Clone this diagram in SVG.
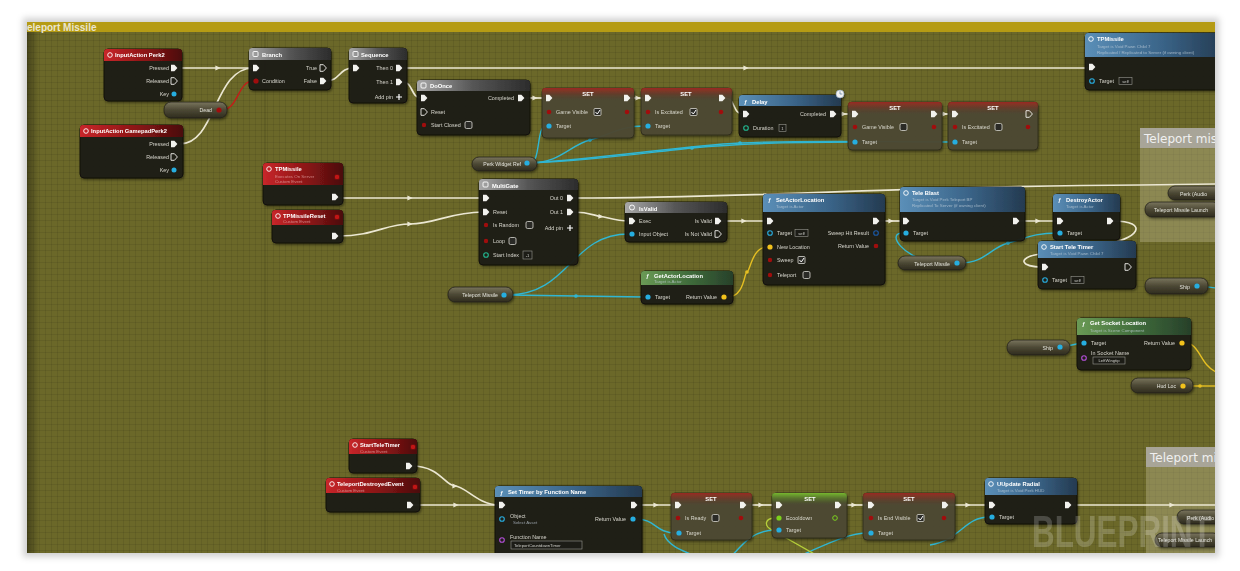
<svg xmlns="http://www.w3.org/2000/svg" width="1240" height="571" viewBox="0 0 1240 571">
<defs>
<style>
.t{font-family:"Liberation Sans",Arial,sans-serif;font-size:5.4px;fill:#d6d6cc}
.e{text-anchor:end}
.m{text-anchor:middle}
.tt{font-family:"Liberation Sans",Arial,sans-serif;font-size:5.8px;font-weight:bold;fill:#fff}
.ts{font-family:"Liberation Sans",Arial,sans-serif;font-size:4.4px;fill:#c8d4de;fill-opacity:.7}
.tsr{font-family:"Liberation Sans",Arial,sans-serif;font-size:4.4px;fill:#e8b0b0;fill-opacity:.7}
.nb{fill:#1c1b16;fill-opacity:.95;stroke:#0c0c09;stroke-width:.8}
.sb{fill:#4e4933;fill-opacity:.95;stroke:#2b2818;stroke-width:.8}
.gv{fill:url(#gGet);stroke:#23211a;stroke-width:.8}
.ef{fill:#f2f2ee}
.eh{fill:none;stroke:#f2f2ee;stroke-width:.9}
.pb{fill:#27aee0}
.pbh{fill:none;stroke:#27aee0;stroke-width:1.1}
.pr{fill:#a01010}
.py{fill:#f2c21c}
.pgr{fill:#7cd11e}
.pgh{fill:none;stroke:#7cd11e;stroke-width:1}
.pth{fill:none;stroke:#22b890;stroke-width:1.1}
.ppu{fill:none;stroke:#b450d8;stroke-width:1.1}
.dl{fill:#c01414;stroke:#5a0808;stroke-width:.6}
.cb{fill:#2a2a26;stroke:#d8d8d0;stroke-width:.8}
.ck{fill:none;stroke:#fff;stroke-width:1}
.db{fill:#1a1a16;stroke:#9a9a92;stroke-width:.6}
.dt{font-family:"Liberation Sans",Arial,sans-serif;font-size:4.2px;fill:#d0d0c8}
.ic{fill:none;stroke:#fff;stroke-width:.9}
.pl{fill:none;stroke:#fff;stroke-width:1.2}
.w{fill:none;stroke:#ebe7d2;stroke-width:1.7}
.wb{fill:none;stroke:#30b6d2;stroke-width:1.4}
.wy{fill:none;stroke:#e6bf22;stroke-width:1.4}
.wr{fill:none;stroke:#c41c18;stroke-width:1.4}
.wg{fill:none;stroke:#b6cf3a;stroke-width:1.3}
.arw{marker-mid:url(#mW)}
.arb{marker-mid:url(#mB)}
.ary{marker-mid:url(#mY)}
.cm{fill:#d2cca6;fill-opacity:.33}
.ch{fill:#aaa79e;fill-opacity:.92}
.ct{font-family:"DejaVu Sans",sans-serif;font-size:12px;fill:#f0f0f0}
.gt{font-family:"Liberation Sans",Arial,sans-serif;font-size:5.2px;fill:#e4e4dc;text-anchor:end}
.gs{font-family:"Liberation Sans",Arial,sans-serif;font-size:5.2px;fill:#e4e4dc}
</style>
<path id="ex" d="M-3,-3.3H0.4L3.4,0L0.4,3.3H-3Z"/>
<marker id="mW" viewBox="-3 -3 6 6" markerWidth="6" markerHeight="6" orient="auto" markerUnits="userSpaceOnUse"><path d="M-2.6,-2.4L2.6,0L-2.6,2.4Z" fill="#ebe7d2"/></marker>
<marker id="mB" viewBox="-3 -3 6 6" markerWidth="5" markerHeight="5" orient="auto" markerUnits="userSpaceOnUse"><circle r="2.2" fill="#30b6d2"/></marker>
<marker id="mY" viewBox="-3 -3 6 6" markerWidth="5" markerHeight="5" orient="auto" markerUnits="userSpaceOnUse"><circle r="2.2" fill="#e6bf22"/></marker>
<linearGradient id="gRed" x1="0" y1="0" x2="1" y2="0"><stop offset="0" stop-color="#c8262a"/><stop offset=".55" stop-color="#8a1414"/><stop offset="1" stop-color="#4a0e0e"/></linearGradient>
<linearGradient id="gGray" x1="0" y1="0" x2="1" y2="0"><stop offset="0" stop-color="#a8a8a8"/><stop offset=".5" stop-color="#555"/><stop offset="1" stop-color="#2c2c2c"/></linearGradient>
<linearGradient id="gBlue" x1="0" y1="0" x2="1" y2="0"><stop offset="0" stop-color="#5b8fb8"/><stop offset=".55" stop-color="#3a6488"/><stop offset="1" stop-color="#243a50"/></linearGradient>
<linearGradient id="gGreen" x1="0" y1="0" x2="1" y2="0"><stop offset="0" stop-color="#6a9a55"/><stop offset=".55" stop-color="#3e6a3a"/><stop offset="1" stop-color="#27402a"/></linearGradient>
<linearGradient id="gSet" x1="0" y1="0" x2="0" y2="1"><stop offset="0" stop-color="#a02a22" stop-opacity=".95"/><stop offset="1" stop-color="#5a3a28" stop-opacity="0"/></linearGradient>
<linearGradient id="gSetG" x1="0" y1="0" x2="0" y2="1"><stop offset="0" stop-color="#7ac030" stop-opacity=".95"/><stop offset="1" stop-color="#4a6a28" stop-opacity="0"/></linearGradient>
<linearGradient id="gGet" x1="0" y1="0" x2="0" y2="1"><stop offset="0" stop-color="#7a755e"/><stop offset=".5" stop-color="#4c4834"/><stop offset="1" stop-color="#2e2b1e"/></linearGradient>
<linearGradient id="gLeft" x1="0" y1="0" x2="1" y2="0"><stop offset="0" stop-color="#000" stop-opacity=".35"/><stop offset="1" stop-color="#000" stop-opacity="0"/></linearGradient>
<pattern id="gm" x="9" y="22" width="6" height="6" patternUnits="userSpaceOnUse"><path d="M0,0.5H6M0.5,0V6" stroke="#000" stroke-opacity=".08" stroke-width="1"/></pattern>
<clipPath id="cv"><rect x="27" y="22" width="1188" height="531"/></clipPath>
<filter id="sh" x="-5%" y="-5%" width="110%" height="115%"><feDropShadow dx="1" dy="1.5" stdDeviation="1.2" flood-color="#000" flood-opacity=".45"/></filter>
<filter id="fb" x="-5%" y="-5%" width="110%" height="110%"><feGaussianBlur stdDeviation="3"/></filter>
</defs>
<rect width="1240" height="571" fill="#fff"/>
<rect x="23" y="18" width="1196" height="539" fill="#000" fill-opacity=".18" filter="url(#fb)"/>
<g clip-path="url(#cv)">
<rect x="27" y="22" width="1188" height="531" fill="#6b6829"/>
<rect x="27" y="22" width="1188" height="531" fill="url(#gm)"/>
<path d="M265,32V553" stroke="#000" stroke-opacity=".15" stroke-width="1.2"/>
<rect x="27" y="22" width="12" height="531" fill="url(#gLeft)"/>
<rect x="27" y="22" width="1188" height="10" fill="#b59b14"/>
<text x="27" y="31" font-family="Liberation Sans, Arial, sans-serif" font-size="10" font-weight="bold" fill="#ebe6cf">eleport Missile</text>

<g id="comment-1">
<rect class="cm" x="1140" y="128" width="80" height="114"/>
<rect class="ch" x="1140" y="128" width="80" height="20"/>
<text class="ct" x="1144" y="143">Teleport mis</text>
</g>
<g id="comment-2">
<rect class="cm" x="1146" y="447" width="74" height="106"/>
<rect class="ch" x="1146" y="447" width="74" height="20"/>
<text class="ct" x="1150" y="462">Teleport mis</text>
</g>

<g id="connectors">
<path class="w arw" d="M180,68L218,68L253,68"/>
<path class="w" d="M180,144C216,144 214,68 253,68"/>
<path class="wr" d="M222,110C238,110 238,81 253,81"/>
<path class="w" d="M326,81C340,81 339,68 353,68"/>
<path class="w arw" d="M403,68L746,68L1089,68"/>
<path class="w" d="M403,82C413,82 411,98 421,98"/>
<path class="w arw" d="M524,98L535,98L545,98"/>
<path class="w arw" d="M630,98L638,98L645,98"/>
<path class="w" d="M725,98C736,98 732,114 743,114"/>
<path class="w arw" d="M836,114L844,114L852,114"/>
<path class="w arw" d="M937,114L945,114L952,114"/>
<path class="w arw" d="M338,198L410,198L483,198"/>
<path class="w" d="M573,198C760,198 900,186 1140,185L1216,184"/>
<path class="w arw" d="M338,236C375,236 385,224 410,224S450,212 483,212"/>
<path class="w arw" d="M573,212C590,212 595,216 601,216.5S615,221 629,221"/>
<path class="w arw" d="M721,221L744,221L767,221"/>
<path class="w arw" d="M879,221L891,221L903,221"/>
<path class="w arw" d="M1019,221L1038,221L1057,221"/>
<path class="w" d="M1113,221C1150,221 1140,240 1100,245L1040,254C1015,258 1022,267 1042,267"/>
<path class="w arw" d="M412,466C440,466 445,486 455,486S478,505 499,505"/>
<path class="w arw" d="M413,505L456,505L499,505"/>
<path class="w arw" d="M637,505L656,505L675,505"/>
<path class="w arw" d="M746,505L761,505L776,505"/>
<path class="w arw" d="M841,505L854,505L868,505"/>
<path class="w arw" d="M948,505L968,505L989,505"/>
<path class="w arw" d="M1071,505L1172,505L1216,505"/>
<path class="wb" d="M530,163C541,163 536,126 546,126"/>
<path class="wb arb" d="M530,163C560,163 570,145 590,140S620,126 645,126"/>
<path class="wb arb" d="M530,163C600,160 650,152 692,148S800,142 852,142"/>
<path class="wb arb" d="M530,163C610,158 680,146 740,143S880,142 952,142"/>
<path class="wb" d="M507,295C570,295 570,234 629,234"/>
<path class="wb arb" d="M507,295L576,296L645,297"/>
<path class="wb arb" d="M903,233C885,233 905,258 930,261S950,263 960,263"/>
<path class="wb arb" d="M960,263C985,263 990,248 1008,243S1035,233 1057,233"/>
<path class="wb" d="M1200,286L1216,288"/>
<path class="wb" d="M1063,347L1081,343"/>
<path class="wy ary" d="M727,297C745,297 744,272 747,272S752,247 767,247"/>
<path class="wy" d="M1185,343C1200,343 1200,365 1216,372"/>
<path class="wy ary" d="M1186,386L1200,386L1216,386"/>
<path class="wb" d="M636,519C656,519 655,533 676,533"/>
<path class="wb" d="M664,534C668,548 690,553 705,560"/>
<path class="wb arb" d="M728,560C740,548 750,530 776,530"/>
<path class="wb arb" d="M790,560C820,548 845,533 868,533"/>
<path class="wb" d="M930,545C960,540 965,517 989,517"/>
<path class="wg" d="M776,518C764,518 764,526 772,530L825,560"/>
</g>

<g id="nodes" filter="url(#sh)">
<g id="n-inputaction-perk2">
<rect class="nb" x="104" y="49" width="78" height="52" rx="4"/>
<path fill="url(#gRed)" d="M104,61V52Q104,49 107,49H179Q182,49 182,52V61Z"/>
<circle cx="110" cy="55" r="2.3" class="ic"/>
<text class="tt" x="115" y="57">InputAction Perk2</text>
<text class="t e" x="169" y="70">Pressed</text><use href="#ex" class="ef" x="174" y="68"/>
<text class="t e" x="169" y="83">Released</text><use href="#ex" class="eh" x="174" y="81"/>
<text class="t e" x="169" y="96">Key</text><circle class="pb" cx="174" cy="94" r="2.5"/>
</g>
<g id="n-branch">
<rect class="nb" x="249" y="48" width="82" height="42" rx="4"/>
<path fill="url(#gGray)" d="M249,60V51Q249,48 252,48H328Q331,48 331,51V60Z"/>
<rect x="253" y="51.5" width="5" height="5" rx="1" class="ic"/>
<text class="tt" x="262" y="56.5">Branch</text>
<use href="#ex" class="ef" x="256" y="68"/>
<circle class="pr" cx="256" cy="81" r="2.6"/><text class="t" x="262" y="83">Condition</text>
<text class="t e" x="317" y="70">True</text><use href="#ex" class="eh" x="323" y="68"/>
<text class="t e" x="317" y="83">False</text><use href="#ex" class="ef" x="323" y="81"/>
</g>
<g id="n-dead">
<rect class="gv" x="164" y="102" width="63" height="16" rx="7"/>
<text class="gt" x="212" y="112">Dead</text><circle class="pr" cx="219" cy="110" r="2.6"/>
</g>
<g id="n-inputaction-gamepadperk2">
<rect class="nb" x="80" y="125" width="103" height="53" rx="4"/>
<path fill="url(#gRed)" d="M80,137V128Q80,125 83,125H180Q183,125 183,128V137Z"/>
<circle cx="86" cy="131" r="2.3" class="ic"/>
<text class="tt" x="91" y="133">InputAction GamepadPerk2</text>
<text class="t e" x="169" y="146">Pressed</text><use href="#ex" class="ef" x="174" y="144"/>
<text class="t e" x="169" y="159">Released</text><use href="#ex" class="eh" x="174" y="157"/>
<text class="t e" x="169" y="172">Key</text><circle class="pb" cx="174" cy="170" r="2.5"/>
</g>
<g id="n-sequence">
<rect class="nb" x="349" y="48" width="58" height="55" rx="4"/>
<path fill="url(#gGray)" d="M349,60V51Q349,48 352,48H404Q407,48 407,51V60Z"/>
<rect x="353" y="51.5" width="5" height="5" rx="1" class="ic"/>
<text class="tt" x="361" y="56.5">Sequence</text>
<use href="#ex" class="ef" x="356" y="68"/>
<text class="t e" x="393" y="70">Then 0</text><use href="#ex" class="ef" x="399" y="68"/>
<text class="t e" x="393" y="84">Then 1</text><use href="#ex" class="ef" x="399" y="82"/>
<text class="t e" x="393" y="99">Add pin</text><path class="pl" d="M396,97H402M399,94V100"/>
</g>
<g id="n-doonce">
<rect class="nb" x="417" y="80" width="113" height="55" rx="4"/>
<path fill="url(#gGray)" d="M417,91V83Q417,80 420,80H527Q530,80 530,83V91Z"/>
<rect x="421" y="83" width="5" height="5" rx="1" class="ic"/>
<text class="tt" x="430" y="88">DoOnce</text>
<use href="#ex" class="ef" x="424" y="98"/>
<use href="#ex" class="eh" x="424" y="112"/><text class="t" x="431" y="114">Reset</text>
<circle class="pr" cx="424" cy="125" r="2.2"/><text class="t" x="431" y="127">Start Closed</text>
<rect class="cb" x="465" y="121.5" width="7" height="7" rx="1.5"/>
<text class="t e" x="514" y="100">Completed</text><use href="#ex" class="ef" x="521" y="98"/>
</g>
<g id="n-set-gamevisible-1">
<rect class="sb" x="542" y="88" width="92" height="50" rx="4"/>
<path fill="url(#gSet)" d="M542,100V91Q542,88 545,88H631Q634,88 634,91V100Z"/>
<text class="tt m" x="588" y="96" font-size="5">SET</text>
<use href="#ex" class="ef" x="549" y="98"/><use href="#ex" class="ef" x="627" y="98"/>
<circle class="pr" cx="549" cy="112" r="2.3"/><text class="t" x="556" y="114">Game Visible</text>
<rect class="cb" x="594" y="108.5" width="7" height="7" rx="1"/><path class="ck" d="M595.5,112L597.3,114L600,110"/>
<circle class="pr" cx="627" cy="112" r="2.3"/>
<circle class="pb" cx="549" cy="126" r="2.6"/><text class="t" x="556" y="128">Target</text>
</g>
<g id="n-set-isexcitated-1">
<rect class="sb" x="641" y="88" width="91" height="47" rx="4"/>
<path fill="url(#gSet)" d="M641,100V91Q641,88 644,88H729Q732,88 732,91V100Z"/>
<text class="tt m" x="686" y="96" font-size="5">SET</text>
<use href="#ex" class="ef" x="648" y="98"/><use href="#ex" class="ef" x="722" y="98"/>
<circle class="pr" cx="648" cy="112" r="2.3"/><text class="t" x="655" y="114">Is Excitated</text>
<rect class="cb" x="690" y="108.5" width="7" height="7" rx="1"/><path class="ck" d="M691.5,112L693.3,114L696,110"/>
<circle class="pr" cx="721" cy="112" r="2.3"/>
<circle class="pb" cx="648" cy="126" r="2.6"/><text class="t" x="655" y="128">Target</text>
</g>
<g id="n-delay">
<rect class="nb" x="739" y="95" width="102" height="42" rx="4"/>
<path fill="url(#gBlue)" d="M739,106V98Q739,95 742,95H838Q841,95 841,98V106Z"/>
<text class="tt" x="744" y="103.5">ƒ</text><text class="tt" x="752" y="103.5">Delay</text>
<circle cx="840" cy="94" r="4" fill="#f2f2f2" stroke="#8aa0b8" stroke-width=".6"/>
<path d="M840,94V91.3M840,94H842.3" stroke="#5a7a98" stroke-width=".7" fill="none"/>
<use href="#ex" class="ef" x="746" y="114"/>
<circle class="pth" cx="746" cy="128" r="2.3"/><text class="t" x="753" y="130">Duration</text>
<rect class="db" x="779" y="124.5" width="7" height="7"/><text class="dt m" x="782.5" y="129.8">1</text>
<text class="t e" x="826" y="116">Completed</text><use href="#ex" class="ef" x="833" y="114"/>
</g>
<g id="n-set-gamevisible-2">
<rect class="sb" x="848" y="102" width="94" height="48" rx="4"/>
<path fill="url(#gSet)" d="M848,114V105Q848,102 851,102H939Q942,102 942,105V114Z"/>
<text class="tt m" x="895" y="110" font-size="5">SET</text>
<use href="#ex" class="ef" x="855" y="114"/><use href="#ex" class="ef" x="934" y="114"/>
<circle class="pr" cx="855" cy="127" r="2.3"/><text class="t" x="862" y="129">Game Visible</text>
<rect class="cb" x="900" y="123.5" width="7" height="7" rx="1.5"/>
<circle class="pr" cx="934" cy="127" r="2.3"/>
<circle class="pb" cx="855" cy="142" r="2.6"/><text class="t" x="862" y="144">Target</text>
</g>
<g id="n-set-isexcitated-2">
<rect class="sb" x="948" y="102" width="90" height="48" rx="4"/>
<path fill="url(#gSet)" d="M948,114V105Q948,102 951,102H1035Q1038,102 1038,105V114Z"/>
<text class="tt m" x="993" y="110" font-size="5">SET</text>
<use href="#ex" class="ef" x="955" y="114"/><use href="#ex" class="eh" x="1029" y="114"/>
<circle class="pr" cx="955" cy="127" r="2.3"/><text class="t" x="962" y="129">Is Excitated</text>
<rect class="cb" x="995" y="123.5" width="7" height="7" rx="1.5"/>
<circle class="pr" cx="1028" cy="127" r="2.3"/>
<circle class="pb" cx="955" cy="142" r="2.6"/><text class="t" x="962" y="144">Target</text>
</g>
<g id="n-tpmissile-call">
<rect class="nb" x="1085" y="33" width="140" height="57" rx="4"/>
<path fill="url(#gBlue)" d="M1085,57V36Q1085,33 1088,33H1222Q1225,33 1225,36V57Z"/>
<circle cx="1091" cy="39" r="2.3" class="ic"/>
<text class="tt" x="1097" y="41">TPMissile</text>
<text class="ts" x="1097" y="48">Target is Void Pawn Child 7</text>
<text class="ts" x="1097" y="54">Replicated / Replicated to Server (if owning client)</text>
<use href="#ex" class="ef" x="1092" y="67"/>
<circle class="pbh" cx="1092" cy="81" r="2.3"/><text class="t" x="1099" y="83">Target</text>
<rect class="db" x="1119" y="77.5" width="13" height="7"/><text class="dt m" x="1125.5" y="82.5">self</text>
</g>
<g id="n-perk-audio-1"><rect class="gv" x="1168" y="186" width="60" height="14" rx="7"/><text class="gs" x="1180" y="195.5">Perk (Audio</text></g>
<g id="n-teleport-missile-launch-1"><rect class="gv" x="1145" y="202" width="75" height="15" rx="7"/><text class="gs" x="1154" y="212">Teleport Missile Launch</text></g>
<g id="n-tpmissile-event">
<rect class="nb" x="263" y="163" width="80" height="42" rx="4"/>
<path fill="url(#gRed)" d="M263,185V166Q263,163 266,163H340Q343,163 343,166V185Z"/>
<circle cx="269" cy="169" r="2.3" class="ic"/>
<text class="tt" x="275" y="171">TPMissile</text>
<text class="tsr" x="275" y="177.5">Executes On Server</text>
<text class="tsr" x="275" y="183">Custom Event</text>
<rect class="dl" x="334.5" y="174.5" width="5" height="5" rx="1.5"/>
<use href="#ex" class="ef" x="335" y="197"/>
</g>
<g id="n-tpmissilereset-event">
<rect class="nb" x="272" y="210" width="71" height="33" rx="4"/>
<path fill="url(#gRed)" d="M272,225V213Q272,210 275,210H340Q343,210 343,213V225Z"/>
<circle cx="278" cy="216" r="2.3" class="ic"/>
<text class="tt" x="283" y="217.5">TPMissileReset</text>
<text class="tsr" x="283" y="223">Custom Event</text>
<rect class="dl" x="334.5" y="214.5" width="5" height="5" rx="1.5"/>
<use href="#ex" class="ef" x="335" y="236"/>
</g>
<g id="n-multigate">
<rect class="nb" x="479" y="179" width="99" height="86" rx="4"/>
<path fill="url(#gGray)" d="M479,190V182Q479,179 482,179H575Q578,179 578,182V190Z"/>
<rect x="483" y="182" width="5" height="5" rx="1" class="ic"/>
<text class="tt" x="492" y="187.5">MultiGate</text>
<use href="#ex" class="ef" x="486" y="198"/>
<use href="#ex" class="ef" x="486" y="212"/><text class="t" x="493" y="214">Reset</text>
<circle class="pr" cx="486" cy="225" r="2.2"/><text class="t" x="493" y="227">Is Random</text>
<rect class="cb" x="526" y="221.5" width="7" height="7" rx="1.5"/>
<circle class="pr" cx="486" cy="241" r="2.2"/><text class="t" x="493" y="243">Loop</text>
<rect class="cb" x="509" y="237.5" width="7" height="7" rx="1.5"/>
<circle class="pth" cx="486" cy="255" r="2.3"/><text class="t" x="493" y="257">Start Index</text>
<rect class="db" x="523" y="251" width="9" height="8"/><text class="dt m" x="527.5" y="256.5">-1</text>
<text class="t e" x="563" y="200">Out 0</text><use href="#ex" class="ef" x="570" y="198"/>
<text class="t e" x="563" y="214">Out 1</text><use href="#ex" class="ef" x="570" y="212"/>
<text class="t e" x="563" y="230">Add pin</text><path class="pl" d="M567,228H573M570,225V231"/>
</g>
<g id="n-isvalid">
<rect class="nb" x="625" y="202" width="102" height="40" rx="4"/>
<path fill="url(#gGray)" d="M625,213V205Q625,202 628,202H724Q727,202 727,205V213Z"/>
<circle cx="632" cy="207.5" r="2.5" class="ic"/>
<text class="tt" x="639" y="210.5">IsValid</text>
<use href="#ex" class="ef" x="632" y="221"/><text class="t" x="639" y="223">Exec</text>
<circle class="pb" cx="632" cy="234" r="2.6"/><text class="t" x="639" y="236">Input Object</text>
<text class="t e" x="712" y="223">Is Valid</text><use href="#ex" class="ef" x="718" y="221"/>
<text class="t e" x="712" y="236">Is Not Valid</text><use href="#ex" class="eh" x="718" y="234"/>
</g>
<g id="n-setactorlocation">
<rect class="nb" x="763" y="194" width="122" height="91" rx="4"/>
<path fill="url(#gBlue)" d="M763,212V197Q763,194 766,194H882Q885,194 885,197V212Z"/>
<text class="tt" x="768" y="202">ƒ</text>
<text class="tt" x="776" y="201.5">SetActorLocation</text>
<text class="ts" x="776" y="208">Target is Actor</text>
<use href="#ex" class="ef" x="770" y="221"/><use href="#ex" class="ef" x="876" y="221"/>
<circle class="pbh" cx="770" cy="233" r="2.3"/><text class="t" x="777" y="235">Target</text>
<rect class="db" x="795" y="229.5" width="13" height="7"/><text class="dt m" x="801.5" y="234.5">self</text>
<text class="t e" x="869" y="235">Sweep Hit Result</text><circle cx="876" cy="233" r="2.3" fill="none" stroke="#1a5aa8" stroke-width="1.1"/>
<circle class="py" cx="770" cy="247" r="2.6"/><text class="t" x="777" y="249">New Location</text>
<text class="t e" x="869" y="248">Return Value</text><circle class="pr" cx="876" cy="246" r="2.3"/>
<circle class="pr" cx="770" cy="260" r="2.2"/><text class="t" x="777" y="262">Sweep</text>
<rect class="cb" x="798" y="256.5" width="7" height="7" rx="1"/><path class="ck" d="M799.5,260L801.3,262L804,258"/>
<circle class="pr" cx="770" cy="275" r="2.2"/><text class="t" x="777" y="277">Teleport</text>
<rect class="cb" x="803" y="271.5" width="7" height="7" rx="1.5"/>
</g>
<g id="n-getactorlocation">
<rect class="nb" x="641" y="271" width="92" height="33" rx="4"/>
<path fill="url(#gGreen)" d="M641,285V274Q641,271 644,271H730Q733,271 733,274V285Z"/>
<text class="tt" x="646" y="278">ƒ</text>
<text class="tt" x="654" y="277.5">GetActorLocation</text>
<text class="ts" x="654" y="283">Target is Actor</text>
<circle class="pb" cx="648" cy="297" r="2.6"/><text class="t" x="655" y="299">Target</text>
<text class="t e" x="717" y="299">Return Value</text><circle class="py" cx="724" cy="297" r="2.6"/>
</g>
<g id="n-teleport-missile-1"><rect class="gv" x="448" y="287" width="65" height="15" rx="7"/><text class="gt" x="498" y="297">Teleport Missile</text><circle class="pb" cx="504" cy="295" r="2.6"/></g>
<g id="n-perk-widget-ref"><rect class="gv" x="472" y="157" width="65" height="14" rx="7"/><text class="gt" x="521" y="166">Perk Widget Ref</text><circle class="pb" cx="527" cy="163" r="2.6"/></g>
<g id="n-tele-blast">
<rect class="nb" x="900" y="187" width="125" height="54" rx="4"/>
<path fill="url(#gBlue)" d="M900,212V190Q900,187 903,187H1022Q1025,187 1025,190V212Z"/>
<circle cx="906" cy="193" r="2.3" class="ic"/>
<text class="tt" x="912" y="194.5">Tele Blast</text>
<text class="ts" x="912" y="201">Target is Void Perk Teleport BP</text>
<text class="ts" x="912" y="207">Replicated To Server (if owning client)</text>
<use href="#ex" class="ef" x="906" y="221"/><use href="#ex" class="ef" x="1016" y="221"/>
<circle class="pb" cx="906" cy="233" r="2.6"/><text class="t" x="913" y="235">Target</text>
</g>
<g id="n-destroyactor">
<rect class="nb" x="1053" y="194" width="67" height="46" rx="4"/>
<path fill="url(#gBlue)" d="M1053,212V197Q1053,194 1056,194H1117Q1120,194 1120,197V212Z"/>
<text class="tt" x="1058" y="202">ƒ</text>
<text class="tt" x="1066" y="201.5">DestroyActor</text>
<text class="ts" x="1066" y="208">Target is Actor</text>
<use href="#ex" class="ef" x="1060" y="221"/><use href="#ex" class="ef" x="1110" y="221"/>
<circle class="pb" cx="1060" cy="233" r="2.6"/><text class="t" x="1067" y="235">Target</text>
</g>
<g id="n-start-tele-timer">
<rect class="nb" x="1038" y="241" width="98" height="48" rx="4"/>
<path fill="url(#gBlue)" d="M1038,258V244Q1038,241 1041,241H1133Q1136,241 1136,244V258Z"/>
<circle cx="1044" cy="247" r="2.3" class="ic"/>
<text class="tt" x="1050" y="248.5">Start Tele Timer</text>
<text class="ts" x="1050" y="255">Target is Void Pawn Child 7</text>
<use href="#ex" class="ef" x="1045" y="267"/><use href="#ex" class="eh" x="1128" y="267"/>
<circle class="pbh" cx="1045" cy="280" r="2.3"/><text class="t" x="1052" y="282">Target</text>
<rect class="db" x="1071" y="276.5" width="13" height="7"/><text class="dt m" x="1077.5" y="281.5">self</text>
</g>
<g id="n-teleport-missile-2"><rect class="gv" x="898" y="256" width="68" height="14" rx="7"/><text class="gt" x="950" y="265.5">Teleport Missile</text><circle class="pb" cx="957" cy="263" r="2.6"/></g>
<g id="n-ship-1"><rect class="gv" x="1145" y="278" width="63" height="16" rx="7"/><text class="gt" x="1190" y="288.5">Ship</text><circle class="pb" cx="1197" cy="286" r="2.6"/></g>
<g id="n-ship-2"><rect class="gv" x="1007" y="340" width="63" height="15" rx="7"/><text class="gt" x="1053" y="350">Ship</text><circle class="pb" cx="1060" cy="347" r="2.6"/></g>
<g id="n-get-socket-location">
<rect class="nb" x="1077" y="318" width="114" height="52" rx="4"/>
<path fill="url(#gGreen)" d="M1077,335V321Q1077,318 1080,318H1188Q1191,318 1191,321V335Z"/>
<text class="tt" x="1082" y="325.5">ƒ</text>
<text class="tt" x="1090" y="325">Get Socket Location</text>
<text class="ts" x="1090" y="331.5">Target is Scene Component</text>
<circle class="pb" cx="1084" cy="343" r="2.6"/><text class="t" x="1091" y="345">Target</text>
<text class="t e" x="1175" y="345">Return Value</text><circle class="py" cx="1182" cy="343" r="2.6"/>
<circle class="ppu" cx="1084" cy="358" r="2.3"/><text class="t" x="1091" y="354.5">In Socket Name</text>
<rect class="db" x="1093" y="357" width="32" height="7"/><text class="dt m" x="1109" y="362">LeftWingtip</text>
</g>
<g id="n-hud-loc"><rect class="gv" x="1131" y="378" width="62" height="15" rx="7"/><text class="gt" x="1176" y="388">Hud Loc</text><circle class="py" cx="1183" cy="386" r="2.6"/></g>
<g id="n-startteletimer-event">
<rect class="nb" x="349" y="439" width="68" height="34" rx="4"/>
<path fill="url(#gRed)" d="M349,454V442Q349,439 352,439H414Q417,439 417,442V454Z"/>
<circle cx="355" cy="445" r="2.3" class="ic"/>
<text class="tt" x="360" y="446.5">StartTeleTimer</text>
<text class="tsr" x="360" y="452.5">Custom Event</text>
<rect class="dl" x="410.5" y="444.5" width="5" height="5" rx="1.5"/>
<use href="#ex" class="ef" x="409" y="466"/>
</g>
<g id="n-teleportdestroyedevent">
<rect class="nb" x="326" y="478" width="94" height="34" rx="4"/>
<path fill="url(#gRed)" d="M326,493V481Q326,478 329,478H417Q420,478 420,481V493Z"/>
<circle cx="332" cy="484" r="2.3" class="ic"/>
<text class="tt" x="337" y="485.5">TeleportDestroyedEvent</text>
<text class="tsr" x="337" y="491.5">Custom Event</text>
<rect class="dl" x="412.5" y="484.5" width="5" height="5" rx="1.5"/>
<use href="#ex" class="ef" x="410" y="505"/>
</g>
<g id="n-set-timer-by-function-name">
<rect class="nb" x="495" y="486" width="147" height="75" rx="4"/>
<path fill="url(#gBlue)" d="M495,497V489Q495,486 498,486H639Q642,486 642,489V497Z"/>
<text class="tt" x="500" y="494.5">ƒ</text>
<text class="tt" x="508" y="494">Set Timer by Function Name</text>
<use href="#ex" class="ef" x="502" y="505"/><use href="#ex" class="ef" x="634" y="505"/>
<circle class="pbh" cx="502" cy="519" r="2.3"/><text class="t" x="510" y="518">Object</text>
<text class="ts" x="513" y="524">Select Asset</text>
<text class="t e" x="626" y="521">Return Value</text><circle class="pb" cx="633" cy="519" r="2.6"/>
<circle class="ppu" cx="502" cy="540" r="2.3"/><text class="t" x="510" y="538.5">Function Name</text>
<rect class="db" x="511" y="541" width="71" height="8"/><text class="dt" x="514" y="546.8">TeleportCountdownTimer</text>
</g>
<g id="n-set-isready">
<rect class="sb" x="671" y="493" width="81" height="47" rx="4"/>
<path fill="url(#gSet)" d="M671,505V496Q671,493 674,493H749Q752,493 752,496V505Z"/>
<text class="tt m" x="711" y="501" font-size="5">SET</text>
<use href="#ex" class="ef" x="678" y="505"/><use href="#ex" class="ef" x="743" y="505"/>
<circle class="pr" cx="678" cy="518" r="2.3"/><text class="t" x="685" y="520">Is Ready</text>
<rect class="cb" x="712" y="514.5" width="7" height="7" rx="1.5"/>
<circle class="pr" cx="741" cy="518" r="2.3"/>
<circle class="pb" cx="679" cy="533" r="2.6"/><text class="t" x="686" y="535">Target</text>
</g>
<g id="n-set-ecooldown">
<rect class="sb" x="772" y="493" width="75" height="45" rx="4"/>
<path fill="url(#gSetG)" d="M772,505V496Q772,493 775,493H844Q847,493 847,496V505Z"/>
<text class="tt m" x="810" y="501" font-size="5">SET</text>
<use href="#ex" class="ef" x="779" y="505"/><use href="#ex" class="ef" x="838" y="505"/>
<circle class="pgr" cx="779" cy="518" r="2.6"/><text class="t" x="786" y="520">Ecooldown</text>
<circle class="pgh" cx="835" cy="518" r="2.3"/>
<circle class="pb" cx="779" cy="530" r="2.6"/><text class="t" x="786" y="532">Target</text>
</g>
<g id="n-set-isendvisible">
<rect class="sb" x="863" y="493" width="92" height="47" rx="4"/>
<path fill="url(#gSet)" d="M863,505V496Q863,493 866,493H952Q955,493 955,496V505Z"/>
<text class="tt m" x="909" y="501" font-size="5">SET</text>
<use href="#ex" class="ef" x="871" y="505"/><use href="#ex" class="ef" x="945" y="505"/>
<circle class="pr" cx="871" cy="518" r="2.3"/><text class="t" x="878" y="520">Is End Visible</text>
<rect class="cb" x="917" y="514.5" width="7" height="7" rx="1"/><path class="ck" d="M918.5,518L920.3,520L923,516"/>
<circle class="pr" cx="944" cy="518" r="2.3"/>
<circle class="pb" cx="871" cy="533" r="2.6"/><text class="t" x="878" y="535">Target</text>
</g>
<g id="n-uupdate-radial">
<rect class="nb" x="985" y="478" width="92" height="46" rx="4"/>
<path fill="url(#gBlue)" d="M985,495V481Q985,478 988,478H1074Q1077,478 1077,481V495Z"/>
<circle cx="991" cy="484" r="2.3" class="ic"/>
<text class="tt" x="997" y="485.5">UUpdate Radial</text>
<text class="ts" x="997" y="492">Target is Void Perk HUD</text>
<use href="#ex" class="ef" x="992" y="505"/><use href="#ex" class="ef" x="1068" y="505"/>
<circle class="pb" cx="992" cy="517" r="2.6"/><text class="t" x="999" y="519">Target</text>
</g>
<g id="n-perk-audio-2"><rect class="gv" x="1177" y="510" width="45" height="14" rx="7"/><text class="gs" x="1187" y="519.5" font-size="4.6">Perk (Audio</text></g>
<g id="n-teleport-missile-launch-2"><rect class="gv" x="1155" y="533" width="65" height="14" rx="7"/><text class="gs" x="1158" y="542.3" font-size="4.4">Teleport Missile Launch</text></g>
</g>
<text transform="translate(1032,547) scale(0.714,1)" x="0" y="0" font-family="Liberation Sans, Arial, sans-serif" font-size="44" font-weight="bold" fill="#fff" fill-opacity=".2">BLUEPRINT</text>
</g>
</svg>
